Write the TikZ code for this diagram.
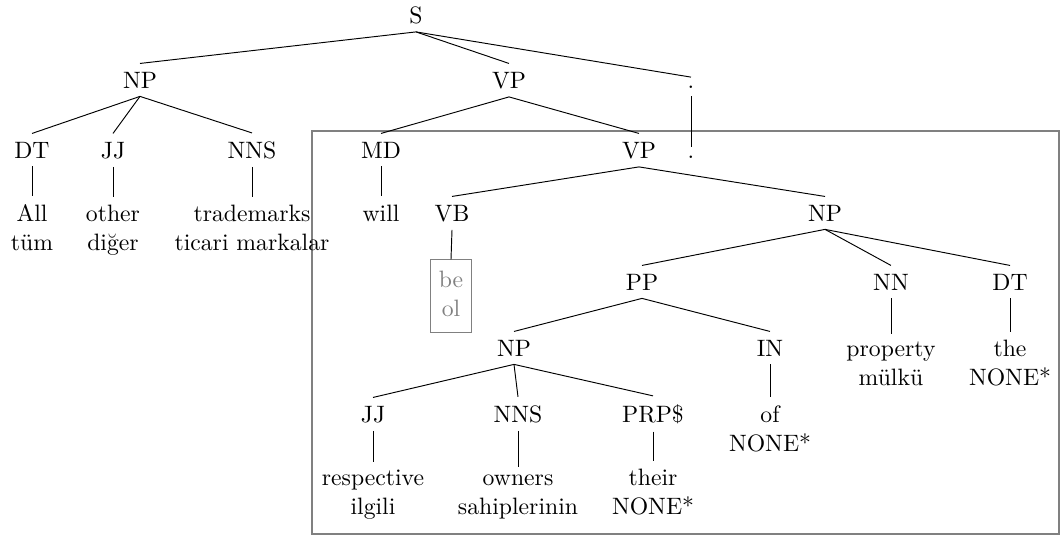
\documentclass[tikz,border=0pt]{standalone}
\begin{document}
\begin{tikzpicture}[x=0.4219pt, y=-0.4219pt,
  lab/.style={anchor=base, align=center, inner sep=0.3333em},
  grayboxed/.style={lab, draw=black!50, text=black!50, inner sep=0.3333em},
  branch/.style={draw, line width=0.4pt}]
\useasboundingbox (0,0) rectangle (1061,536);
% frame
\draw[black!50, line width=0.5pt] (312,131) rectangle (1059,534);
% level 0
\node[lab] (S) at (416,23) {S};
% level 1
\node[lab] (NPa) at (140,88) {NP};
\node[lab] (VPa) at (509,88) {VP};
\node[lab] (dota) at (691,88) {.};
% level 2
\node[lab] (DTa) at (32,158) {DT};
\node[lab] (JJa) at (113,158) {JJ};
\node[lab] (NNSa) at (252,158) {NNS};
\node[lab] (MD) at (381,158) {MD};
\node[lab] (VPb) at (639,158) {VP};
\node[lab] (dotb) at (691,158) {.};
% level 3 (multi-line nodes: base = last line)
\node[lab] (All) at (32,250) {All\\tüm};
\node[lab] (other) at (113,250) {other\\diğer};
\node[lab] (trade) at (252,250) {trademarks\\ticari markalar};
\node[lab] (will) at (381,221) {will};
\node[lab] (VB) at (452,221) {VB};
\node[lab] (NPb) at (825,221) {NP};
% level 4
\node[grayboxed] (be) at (451,316) {\strut be\\\strut ol};
\node[lab] (PP) at (642,290) {PP};
\node[lab] (NN) at (891,290) {NN};
\node[lab] (DTb) at (1010,290) {DT};
% level 5
\node[lab] (NPc) at (514,356) {NP};
\node[lab] (IN) at (770,356) {IN};
\node[lab] (prop) at (891,385) {property\\mülkü};
\node[lab] (the) at (1010,385) {the\\NONE*};
% level 6
\node[lab] (JJb) at (373,422) {JJ};
\node[lab] (NNSb) at (518,422) {NNS};
\node[lab] (PRP) at (653,422) {PRP\$};
\node[lab] (of) at (770,451) {of\\NONE*};
% level 7
\node[lab] (resp) at (373,514) {respective\\ilgili};
\node[lab] (owners) at (518,514) {owners\\sahiplerinin};
\node[lab] (their) at (653,514) {their\\NONE*};
% edges
\foreach \p/\c in {S/NPa, S/VPa, S/dota, NPa/DTa, NPa/JJa, NPa/NNSa,
  VPa/MD, VPa/VPb, dota/dotb, DTa/All, JJa/other, NNSa/trade, MD/will,
  VPb/VB, VPb/NPb, VB/be, NPb/PP, NPb/NN, NPb/DTb, PP/NPc, PP/IN,
  NN/prop, DTb/the, NPc/JJb, NPc/NNSb, NPc/PRP, IN/of, JJb/resp,
  NNSb/owners, PRP/their}
  \draw[branch] (\p.south) -- (\c.north);
\end{tikzpicture}
\end{document}
